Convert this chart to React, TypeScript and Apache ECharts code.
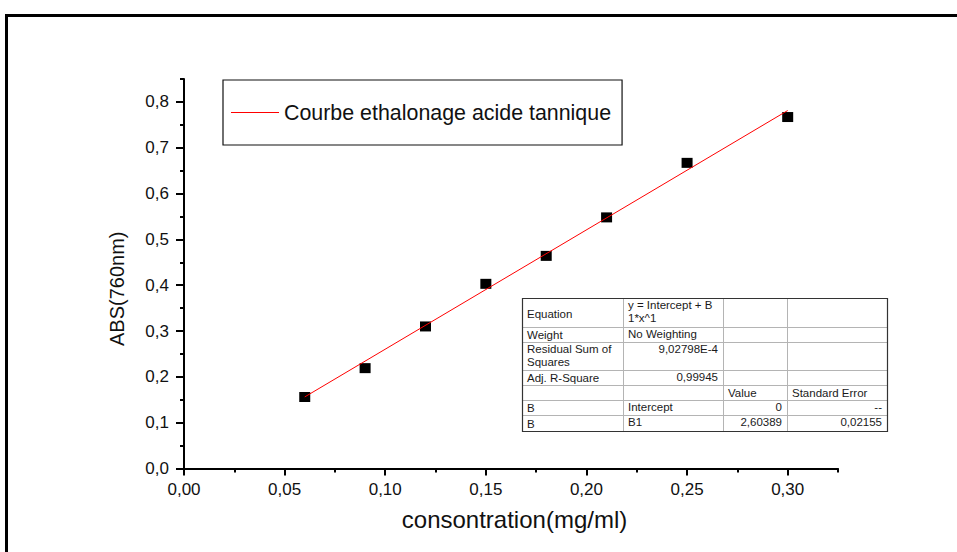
import React, { useEffect, useRef } from "react";
import * as echarts from "echarts";

const concentrations = [0.06, 0.09, 0.12, 0.15, 0.18, 0.21, 0.25, 0.3];
const absorbances = [0.156, 0.219, 0.31, 0.403, 0.464, 0.548, 0.667, 0.767];
const fitLine = [
  [0.06, 0.1562],
  [0.3, 0.7812],
];
const xMajorTicks = [0, 0.05, 0.1, 0.15, 0.2, 0.25, 0.3];
const xMinorTicks = [0.025, 0.075, 0.125, 0.175, 0.225, 0.275, 0.325];
const yMajorTicks = [0, 0.1, 0.2, 0.3, 0.4, 0.5, 0.6, 0.7, 0.8];
const yMinorTicks = [0.05, 0.15, 0.25, 0.35, 0.45, 0.55, 0.65, 0.75, 0.85];
const legendName = "Courbe ethalonage acide tannique";
const xAxisName = "consontration(mg/ml)";
const yAxisName = "ABS(760nm)";

const tableRows = [
  ["Equation", "y = Intercept + B\n1*x^1", "", ""],
  ["Weight", "No Weighting", "", ""],
  ["Residual Sum of\nSquares", "9,02798E-4", "", ""],
  ["Adj. R-Square", "0,99945", "", ""],
  ["", "", "Value", "Standard Error"],
  ["B", "Intercept", "0", "--"],
  ["B", "B1", "2,60389", "0,02155"],
];

const FONT = "Arial, 'Liberation Sans', Helvetica, sans-serif";

function buildTable() {
  const colX = [522, 623, 723, 787, 887];
  const rowY = [298, 327, 342, 370, 385, 400, 415, 431];
  const els: any[] = [];
  for (let i = 1; i < rowY.length - 1; i++) {
    els.push({
      type: "line",
      shape: { x1: colX[0], y1: rowY[i] + 0.5, x2: colX[4], y2: rowY[i] + 0.5 },
      style: { stroke: "#b4b4b4", lineWidth: 1 },
      silent: true,
    });
  }
  for (let j = 1; j < colX.length - 1; j++) {
    els.push({
      type: "line",
      shape: { x1: colX[j] + 0.5, y1: rowY[0], x2: colX[j] + 0.5, y2: rowY[7] },
      style: { stroke: "#b4b4b4", lineWidth: 1 },
      silent: true,
    });
  }
  els.push({
    type: "rect",
    shape: { x: colX[0] + 0.5, y: rowY[0] + 0.5, width: colX[4] - colX[0], height: rowY[7] - rowY[0] },
    style: { fill: "none", stroke: "#333", lineWidth: 1.2 },
    silent: true,
  });
  const rightAlign = (r: number, c: number) =>
    (c === 1 && (r === 2 || r === 3)) || (c >= 2 && r >= 5);
  tableRows.forEach((row, r) => {
    row.forEach((txt, c) => {
      if (!txt) return;
      const right = rightAlign(r, c);
      const multi = txt.includes("\n");
      let y: number;
      let vAlign: any = "middle";
      if (r === 0 && c === 0) y = (rowY[0] + rowY[1]) / 2 + 1;
      else if (multi) {
        y = rowY[r] + 0.5;
        vAlign = "top";
      } else if (c >= 1 && r !== 4) y = rowY[r] + 7;
      else y = (rowY[r] + rowY[r + 1]) / 2 + 0.5;
      els.push({
        type: "text",
        x: right ? colX[c + 1] - 5 : colX[c] + 5,
        y,
        silent: true,
        style: {
          text: txt,
          fill: "#1a1a1a",
          font: `11.5px ${FONT}`,
          align: right ? "right" : "left",
          verticalAlign: vAlign,
          lineHeight: 13,
        },
      });
    });
  });
  return els;
}

export default function App() {
  const ref = useRef<HTMLDivElement>(null);
  useEffect(() => {
    if (!ref.current) return;
    const chart = echarts.init(ref.current, null, { renderer: "svg" });
    const tick2 = (v: number) => v.toFixed(2).replace(".", ",");
    const tick1 = (v: number) => v.toFixed(1).replace(".", ",");
    const baseX = {
      type: "value",
      min: 0,
      max: 0.325,
      gridIndex: 0,
      splitLine: { show: false },
    };
    const baseY = {
      type: "value",
      min: 0,
      max: 0.85,
      gridIndex: 0,
      splitLine: { show: false },
    };
    chart.setOption({
      animation: false,
      backgroundColor: "#ffffff",
      textStyle: { fontFamily: FONT },
      grid: { left: 184, top: 79, width: 654, height: 389.5, containLabel: false },
      legend: {
        data: [legendName],
        left: 223,
        top: 80,
        orient: "horizontal",
        icon: "rect",
        padding: [22, 11, 22, 8],
        itemWidth: 48,
        itemHeight: 1,
        borderColor: "#111",
        borderWidth: 1.2,
        borderRadius: 0,
        backgroundColor: "#fff",
        textStyle: { fontSize: 21.4, color: "#111", fontFamily: FONT, lineHeight: 21 },
        selectedMode: false,
      },
      xAxis: [
        {
          ...baseX,
          name: xAxisName,
          nameLocation: "middle",
          nameGap: 39,
          nameTextStyle: {
            fontSize: 24,
            color: "#111",
            fontFamily: FONT,
            padding: [0, 0, 0, 7],
          },
          axisLine: { show: true, lineStyle: { color: "#000", width: 2 } },
          axisTick: {
            show: true,
            length: 7,
            lineStyle: { color: "#000", width: 2 },
            customValues: xMajorTicks,
          },
          axisLabel: {
            show: true,
            margin: 12,
            fontSize: 17,
            color: "#111",
            fontFamily: FONT,
            customValues: xMajorTicks,
            formatter: tick2,
          },
        },
        {
          ...baseX,
          position: "bottom",
          axisLine: { show: false },
          axisTick: {
            show: true,
            length: 4,
            lineStyle: { color: "#000", width: 2 },
            customValues: xMinorTicks,
          },
          axisLabel: { show: false },
        },
      ],
      yAxis: [
        {
          ...baseY,
          name: yAxisName,
          nameLocation: "middle",
          nameGap: 57,
          nameTextStyle: {
            fontSize: 20,
            color: "#111",
            fontFamily: FONT,
            padding: [0, 30, 0, 0],
          },
          axisLine: { show: true, lineStyle: { color: "#000", width: 2 } },
          axisTick: {
            show: true,
            length: 8,
            lineStyle: { color: "#000", width: 2 },
            customValues: yMajorTicks,
          },
          axisLabel: {
            show: true,
            margin: 15,
            fontSize: 17,
            color: "#111",
            fontFamily: FONT,
            customValues: yMajorTicks,
            formatter: tick1,
          },
        },
        {
          ...baseY,
          position: "left",
          axisLine: { show: false },
          axisTick: {
            show: true,
            length: 4,
            lineStyle: { color: "#000", width: 2 },
            customValues: yMinorTicks,
          },
          axisLabel: { show: false },
        },
      ],
      series: [
        {
          name: "data",
          type: "scatter",
          xAxisIndex: 0,
          yAxisIndex: 0,
          symbol: "rect",
          symbolSize: [11, 10],
          itemStyle: { color: "#000", opacity: 1 },
          data: concentrations.map((x, i) => [x, absorbances[i]]),
          z: 2,
        },
        {
          name: legendName,
          type: "line",
          xAxisIndex: 0,
          yAxisIndex: 0,
          symbol: "none",
          showSymbol: false,
          lineStyle: { color: "#ff0000", width: 1 },
          itemStyle: { color: "#ff0000" },
          data: fitLine,
          z: 3,
        },
      ],
      graphic: [
        {
          type: "line",
          shape: { x1: 5, y1: 15.5, x2: 957, y2: 15.5 },
          style: { stroke: "#000", lineWidth: 3 },
          silent: true,
        },
        {
          type: "line",
          shape: { x1: 6.5, y1: 14, x2: 6.5, y2: 552 },
          style: { stroke: "#000", lineWidth: 3 },
          silent: true,
        },
        ...buildTable(),
      ],
    });
    return () => chart.dispose();
  }, []);
  return (
    <div
      ref={ref}
      style={{ position: "absolute", left: 0, top: 0, width: 957, height: 552, background: "#fff" }}
    />
  );
}
